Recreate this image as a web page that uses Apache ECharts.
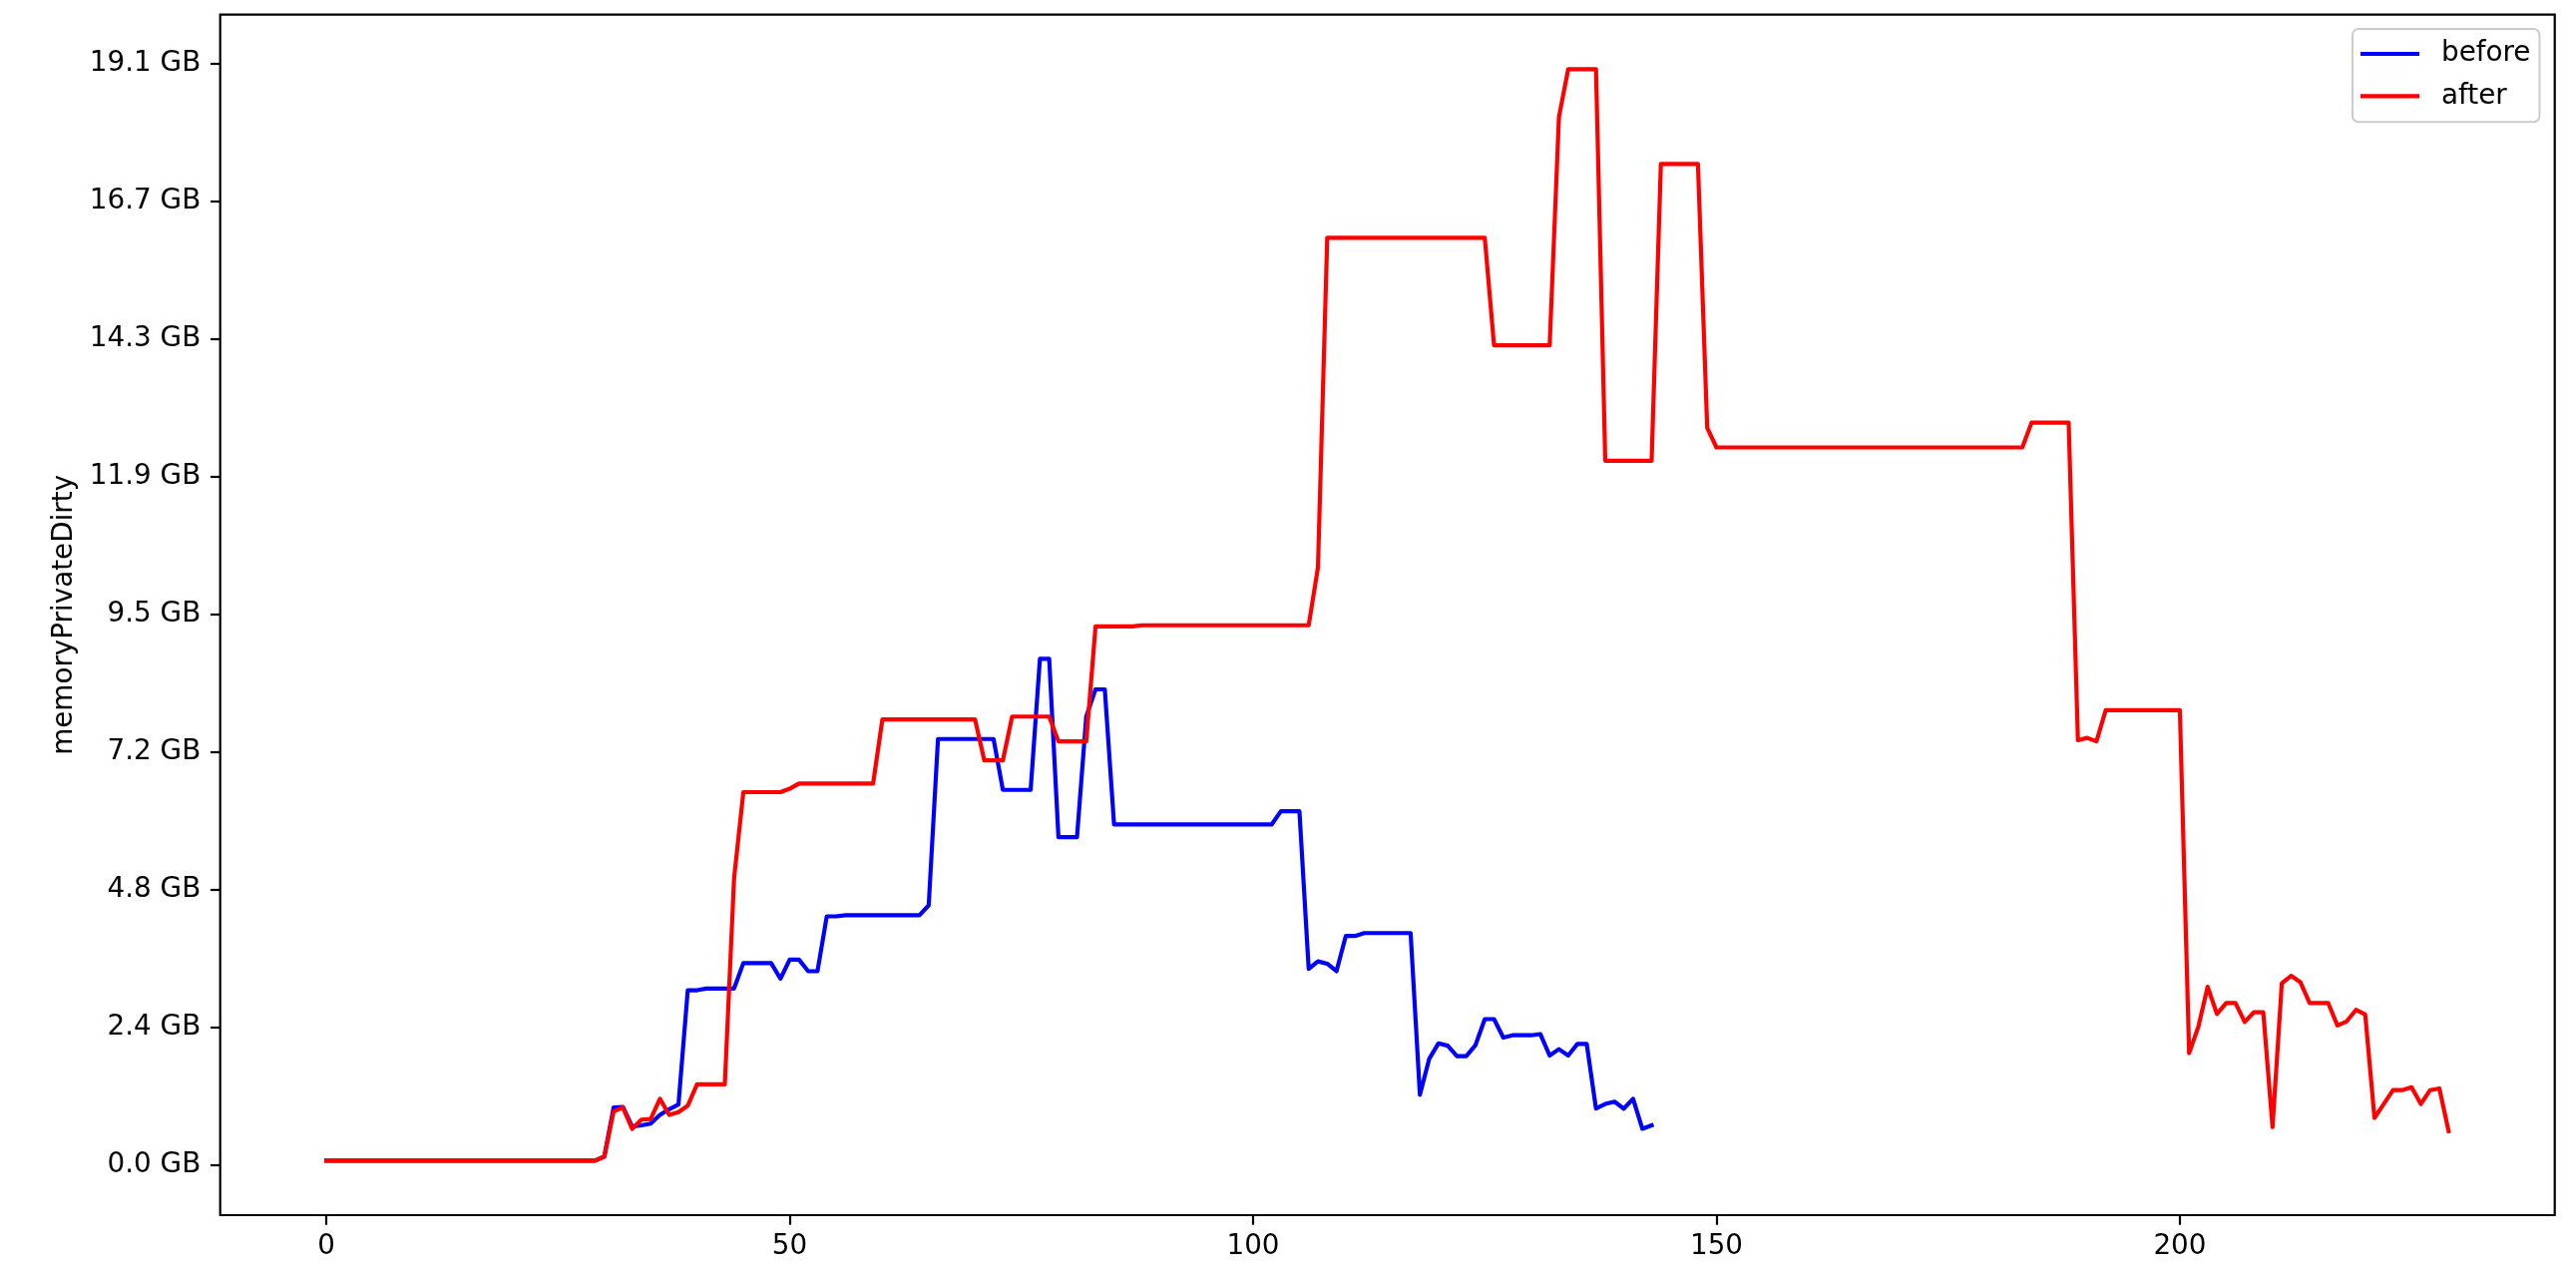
<!DOCTYPE html>
<html>
<head>
<meta charset="utf-8">
<script src="https://cdn.jsdelivr.net/npm/echarts@6/dist/echarts.min.js"></script>
<style>
html,body{margin:0;padding:0;background:#fff;}
#chart{width:2582px;height:1282px;}
</style>
</head>
<body>
<div id="chart"></div>
<script>
// memoryPrivateDirty in GB (GiB), one sample per index
const before = [
0.08,0.08,0.08,0.08,0.08,0.08,0.08,0.08,0.08,0.08,
0.08,0.08,0.08,0.08,0.08,0.08,0.08,0.08,0.08,0.08,
0.08,0.08,0.08,0.08,0.08,0.08,0.08,0.08,0.08,0.08,
0.15,1.00,1.01,0.67,0.69,0.72,0.87,0.97,1.05,3.03,
3.03,3.06,3.06,3.06,3.06,3.50,3.50,3.50,3.50,3.23,
3.56,3.56,3.36,3.36,4.31,4.31,4.33,4.33,4.33,4.33,
4.33,4.33,4.33,4.33,4.33,4.50,7.38,7.38,7.38,7.38,
7.38,7.38,7.38,6.50,6.50,6.50,6.50,8.77,8.77,5.68,
5.68,5.68,7.77,8.24,8.24,5.90,5.90,5.90,5.90,5.90,
5.90,5.90,5.90,5.90,5.90,5.90,5.90,5.90,5.90,5.90,
5.90,5.90,5.90,6.13,6.13,6.13,3.40,3.53,3.49,3.36,
3.97,3.97,4.02,4.02,4.02,4.02,4.02,4.02,1.22,1.84,
2.11,2.07,1.89,1.89,2.08,2.53,2.53,2.21,2.25,2.25,
2.25,2.27,1.90,2.01,1.90,2.10,2.10,0.98,1.06,1.10,
0.98,1.15,0.63,0.69
];
const after = [
0.08,0.08,0.08,0.08,0.08,0.08,0.08,0.08,0.08,0.08,
0.08,0.08,0.08,0.08,0.08,0.08,0.08,0.08,0.08,0.08,
0.08,0.08,0.08,0.08,0.08,0.08,0.08,0.08,0.08,0.08,
0.15,0.93,1.00,0.63,0.79,0.80,1.15,0.87,0.92,1.03,
1.40,1.40,1.40,1.40,4.97,6.46,6.46,6.46,6.46,6.46,
6.52,6.61,6.61,6.61,6.61,6.61,6.61,6.61,6.61,6.61,
7.72,7.72,7.72,7.72,7.72,7.72,7.72,7.72,7.72,7.72,
7.72,7.01,7.01,7.01,7.77,7.77,7.77,7.77,7.77,7.34,
7.34,7.34,7.34,9.33,9.33,9.33,9.33,9.33,9.35,9.35,
9.35,9.35,9.35,9.35,9.35,9.35,9.35,9.35,9.35,9.35,
9.35,9.35,9.35,9.35,9.35,9.35,9.35,10.35,16.06,16.06,
16.06,16.06,16.06,16.06,16.06,16.06,16.06,16.06,16.06,16.06,
16.06,16.06,16.06,16.06,16.06,16.06,14.20,14.20,14.20,14.20,
14.20,14.20,14.20,18.15,18.98,18.98,18.98,18.98,12.20,12.20,
12.20,12.20,12.20,12.20,17.34,17.34,17.34,17.34,17.34,12.77,
12.43,12.43,12.43,12.43,12.43,12.43,12.43,12.43,12.43,12.43,
12.43,12.43,12.43,12.43,12.43,12.43,12.43,12.43,12.43,12.43,
12.43,12.43,12.43,12.43,12.43,12.43,12.43,12.43,12.43,12.43,
12.43,12.43,12.43,12.43,12.86,12.86,12.86,12.86,12.86,7.36,
7.40,7.34,7.88,7.88,7.88,7.88,7.88,7.88,7.88,7.88,
7.88,1.94,2.40,3.09,2.62,2.81,2.81,2.48,2.65,2.65,
0.66,3.15,3.28,3.17,2.81,2.81,2.81,2.42,2.49,2.69,
2.61,0.82,1.06,1.30,1.30,1.35,1.06,1.30,1.33,0.59
];
const seriesNames = ['before', 'after'];
const seriesColors = ['#0000ff', '#ff0000'];
const xTicks = [0, 50, 100, 150, 200];
const yTicks = [0, 2.384, 4.768, 7.153, 9.537, 11.921, 14.305, 16.689, 19.073];
const yTickLabels = ['0.0 GB','2.4 GB','4.8 GB','7.2 GB','9.5 GB','11.9 GB','14.3 GB','16.7 GB','19.1 GB'];
const yName = 'memoryPrivateDirty';

const FONT = 'DejaVu Sans';
const FS = 27.8;

function toPairs(arr){ return arr.map((v, i) => [i, v]); }
function yLabel(v){
  let best = 0, bd = Infinity;
  yTicks.forEach((t, i) => { const d = Math.abs(t - v); if (d < bd) { bd = d; best = i; } });
  return yTickLabels[best];
}

const chart = echarts.init(document.getElementById('chart'), null, {renderer: 'canvas'});
chart.setOption({
  animation: false,
  backgroundColor: '#ffffff',
  textStyle: {fontFamily: FONT},
  grid: {
    left: 220.7, right: 21.3, top: 14.7, bottom: 64,
    show: true, borderColor: '#000', borderWidth: 2.2, backgroundColor: 'transparent'
  },
  legend: {
    orient: 'vertical',
    left: 2358, top: 29,
    padding: [11, 9, 12, 8],
    itemGap: 14.3,
    itemWidth: 59, itemHeight: 4.2,
    icon: 'rect',
    backgroundColor: 'rgba(255,255,255,0.8)',
    borderColor: '#cccccc', borderWidth: 2, borderRadius: 6,
    textStyle: {fontFamily: FONT, fontSize: FS, color: '#000', lineHeight: 28, padding: [0, 0, 0, 17]},
    data: seriesNames
  },
  xAxis: {
    type: 'value',
    min: -11.45, max: 240.45,
    axisLine: {show: false, onZero: false},
    splitLine: {show: false},
    axisTick: {show: true, customValues: xTicks, length: 9.7, inside: false, lineStyle: {color: '#000', width: 2.2}},
    axisLabel: {customValues: xTicks, margin: 18, color: '#000', fontFamily: FONT, fontSize: FS, formatter: v => String(v)}
  },
  yAxis: {
    type: 'value',
    min: -0.865, max: 19.925,
    name: yName,
    nameLocation: 'middle',
    nameRotate: 90,
    nameGap: 139,
    nameTextStyle: {fontFamily: FONT, fontSize: FS, color: '#000'},
    axisLine: {show: false, onZero: false},
    splitLine: {show: false},
    axisTick: {show: true, customValues: yTicks, length: 9.7, inside: false, lineStyle: {color: '#000', width: 2.2}},
    axisLabel: {customValues: yTicks, margin: 19.5, color: '#000', fontFamily: FONT, fontSize: FS, formatter: v => yLabel(v)}
  },
  series: [
    {
      name: seriesNames[0], type: 'line', data: toPairs(before),
      showSymbol: false, symbol: 'none', smooth: false, clip: true,
      color: seriesColors[0],
      lineStyle: {color: seriesColors[0], width: 4.17, join: 'round', cap: 'square'},
      z: 2
    },
    {
      name: seriesNames[1], type: 'line', data: toPairs(after),
      showSymbol: false, symbol: 'none', smooth: false, clip: true,
      color: seriesColors[1],
      lineStyle: {color: seriesColors[1], width: 4.17, join: 'round', cap: 'square'},
      z: 3
    }
  ]
});
</script>
</body>
</html>
